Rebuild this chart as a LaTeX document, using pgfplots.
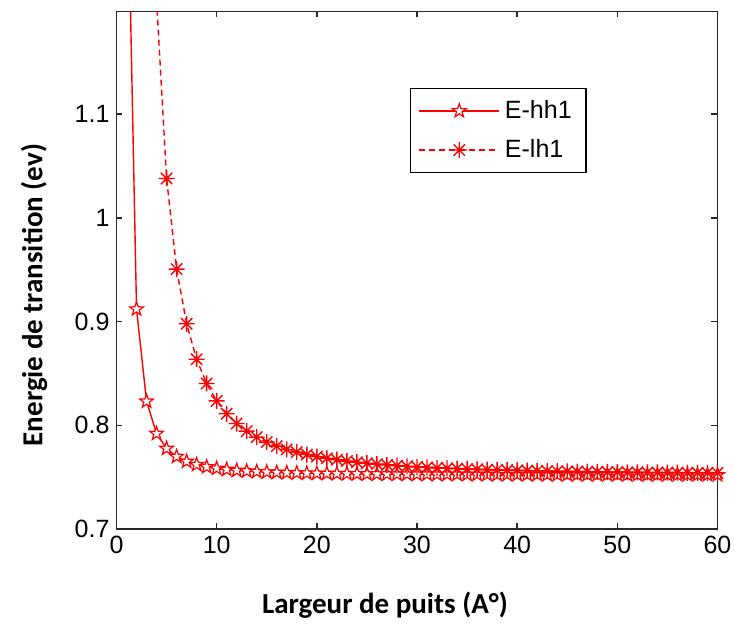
\documentclass[border=0pt]{standalone}
\usepackage{pgfplots}
\pgfplotsset{compat=1.18}
\usepackage{fontspec}
\setmainfont{Liberation Sans}
\newfontfamily\labfont{Carlito}
\usetikzlibrary{plotmarks}
\pgfdeclareplotmark{masterisk}{%
  \pgfpathmoveto{\pgfqpoint{-\pgfplotmarksize}{0pt}}\pgfpathlineto{\pgfqpoint{\pgfplotmarksize}{0pt}}%
  \pgfpathmoveto{\pgfqpoint{0pt}{-\pgfplotmarksize}}\pgfpathlineto{\pgfqpoint{0pt}{\pgfplotmarksize}}%
  \pgfpathmoveto{\pgfqpoint{-0.7071\pgfplotmarksize}{-0.7071\pgfplotmarksize}}\pgfpathlineto{\pgfqpoint{0.7071\pgfplotmarksize}{0.7071\pgfplotmarksize}}%
  \pgfpathmoveto{\pgfqpoint{-0.7071\pgfplotmarksize}{0.7071\pgfplotmarksize}}\pgfpathlineto{\pgfqpoint{0.7071\pgfplotmarksize}{-0.7071\pgfplotmarksize}}%
  \pgfusepathqstroke}
\pgfdeclareplotmark{pentagram}{%
  \pgfpathmoveto{\pgfpointpolar{90}{\pgfplotmarksize}}%
  \pgfpathlineto{\pgfpointpolar{126}{0.4\pgfplotmarksize}}%
  \pgfpathlineto{\pgfpointpolar{162}{\pgfplotmarksize}}%
  \pgfpathlineto{\pgfpointpolar{198}{0.4\pgfplotmarksize}}%
  \pgfpathlineto{\pgfpointpolar{234}{\pgfplotmarksize}}%
  \pgfpathlineto{\pgfpointpolar{270}{0.4\pgfplotmarksize}}%
  \pgfpathlineto{\pgfpointpolar{306}{\pgfplotmarksize}}%
  \pgfpathlineto{\pgfpointpolar{342}{0.4\pgfplotmarksize}}%
  \pgfpathlineto{\pgfpointpolar{18}{\pgfplotmarksize}}%
  \pgfpathlineto{\pgfpointpolar{54}{0.4\pgfplotmarksize}}%
  \pgfpathclose
  \pgfusepathqfillstroke}
\definecolor{axgray}{RGB}{40,40,40}
\begin{document}
\begin{tikzpicture}
\useasboundingbox (-58.25pt,-48.5pt) rectangle (309.25pt,264.5pt);
\begin{axis}[
  at={(0,0)}, anchor=south west,
  scale only axis, width=300.5pt, height=258.75pt,
  xmin=0, xmax=60, ymin=0.7, ymax=1.199,
  xtick={0,10,...,60}, ytick={0.7,0.8,0.9,1,1.1},
  yticklabels={0.7,0.8,0.9,1,1.1},
  tick align=inside, major tick length=3pt,
  axis line style={axgray, line width=0.9pt},
  every tick/.style={axgray, line width=0.7pt},
  ticklabel style={font=\fontsize{12.5}{14}\selectfont},
  /pgf/number format/assume math mode=true,
  xlabel={\labfont\bfseries Largeur de puits (A°)},
  ylabel={\labfont\bfseries Energie de transition (ev)},
  xlabel style={at={(axis description cs:0.4468,-0.147)}, anchor=center, font=\fontsize{14.5}{16}\selectfont},
  ylabel style={at={(axis description cs:-0.137,0.452)}, anchor=center, font=\fontsize{14.5}{16}\selectfont},
  legend style={at={(axis description cs:0.488,0.853)}, anchor=north west,
    draw=black, line width=0.8pt, font=\fontsize{12.5}{14}\selectfont,
    inner xsep=4pt, inner ysep=3.5pt, row sep=4pt,
    nodes={inner sep=2.5pt, text width=34pt, align=left}},
  legend cell align=left,
  legend image code/.code={\draw[mark repeat=2,mark phase=2,#1] plot coordinates {(0pt,0pt)(20pt,0pt)(40pt,0pt)};},
  clip=true,
]
\addplot[red, line width=0.7pt, mark=pentagram, mark size=3.6pt,
  mark options={solid, fill=white, line width=0.6pt}] coordinates {
(1,1.392)(2,0.912)(3,0.8231)(4,0.7920)(5,0.7776)(6,0.7698)(7,0.7651)(8,0.7620)(9,0.7599)(10,0.7584)
(11,0.7573)(12,0.7564)(13,0.7558)(14,0.7553)(15,0.7548)(16,0.7545)(17,0.7542)(18,0.7540)(19,0.7538)(20,0.7536)
(21,0.7535)(22,0.7533)(23,0.7532)(24,0.7531)(25,0.7530)(26,0.7529)(27,0.7529)(28,0.7528)(29,0.7528)(30,0.7527)
(31,0.7527)(32,0.7526)(33,0.7526)(34,0.7526)(35,0.7525)(36,0.7525)(37,0.7525)(38,0.7524)(39,0.7524)(40,0.7524)
(41,0.7524)(42,0.7524)(43,0.7523)(44,0.7523)(45,0.7523)(46,0.7523)(47,0.7523)(48,0.7523)(49,0.7523)(50,0.7523)
(51,0.7522)(52,0.7522)(53,0.7522)(54,0.7522)(55,0.7522)(56,0.7522)(57,0.7522)(58,0.7522)(59,0.7522)(60,0.7522)
};
\addlegendentry{E-hh1}
\addplot[red, line width=0.7pt, dash pattern=on 3pt off 2pt, mark=masterisk, mark size=4pt,
  mark options={solid, line width=0.7pt}] coordinates {
(1,7.902)(2,2.5395)(3,1.5464)(4,1.21)(5,1.038)(6,0.9506)(7,0.8979)(8,0.8637)(9,0.8403)(10,0.8235)
(11,0.8111)(12,0.8017)(13,0.7943)(14,0.7885)(15,0.7838)(16,0.7799)(17,0.7767)(18,0.7741)(19,0.7718)(20,0.7699)
(21,0.7682)(22,0.7668)(23,0.7655)(24,0.7644)(25,0.7634)(26,0.7626)(27,0.7618)(28,0.7611)(29,0.7605)(30,0.7599)
(31,0.7594)(32,0.7590)(33,0.7586)(34,0.7582)(35,0.7578)(36,0.7575)(37,0.7572)(38,0.7570)(39,0.7567)(40,0.7565)
(41,0.7563)(42,0.7561)(43,0.7559)(44,0.7557)(45,0.7555)(46,0.7554)(47,0.7552)(48,0.7551)(49,0.7550)(50,0.7549)
(51,0.7547)(52,0.7546)(53,0.7545)(54,0.7545)(55,0.7544)(56,0.7543)(57,0.7542)(58,0.7541)(59,0.7541)(60,0.7540)
};
\addlegendentry{E-lh1}
\end{axis}
\end{tikzpicture}
\end{document}
